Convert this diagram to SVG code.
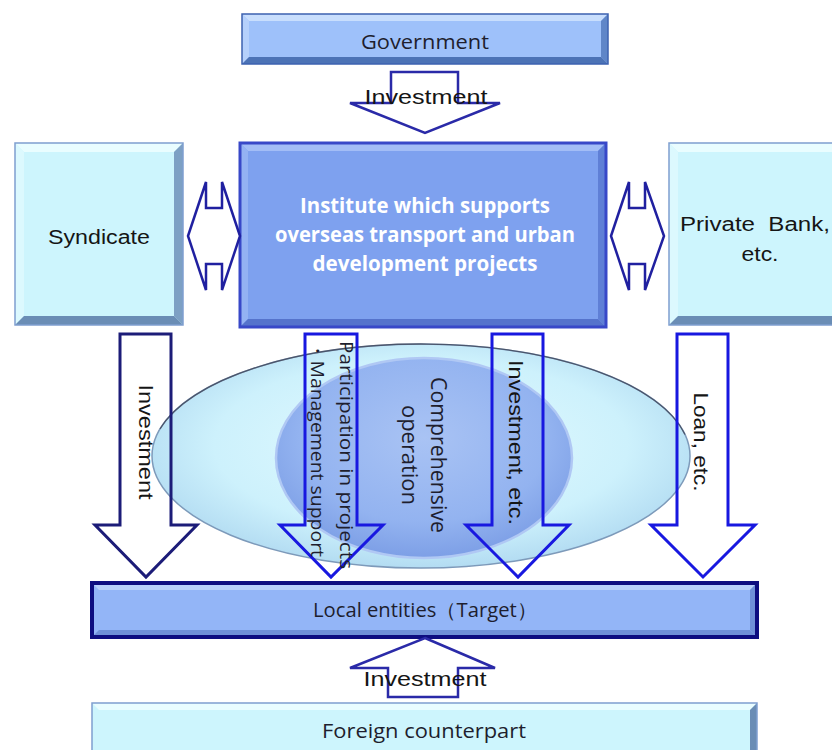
<svg xmlns="http://www.w3.org/2000/svg" width="832" height="750" viewBox="0 0 832 750">
<defs>
<style>
.lbl{font-family:"Open Sans","Noto Sans",sans-serif;fill:#1e1e2e;}
.arl{font-family:"Liberation Sans",Arial,sans-serif;fill:#151515;}
.wht{font-family:"Open Sans","Noto Sans",sans-serif;fill:#ffffff;font-weight:bold;}
.arr{fill:#ffffff;stroke-linejoin:miter;}
.varr{fill:none;stroke-width:3;stroke-linejoin:miter;}
</style>
<radialGradient id="gBig" cx="0.5" cy="0.45" r="0.55">
<stop offset="0" stop-color="#e4fbff"/>
<stop offset="0.7" stop-color="#cdf1fc"/>
<stop offset="1" stop-color="#b3dcf2"/>
</radialGradient>
<radialGradient id="gIn" cx="0.5" cy="0.4" r="0.6">
<stop offset="0" stop-color="#a9c3f4"/>
<stop offset="0.7" stop-color="#93b3f0"/>
<stop offset="1" stop-color="#7d9fe6"/>
</radialGradient>
</defs>
<rect width="832" height="750" fill="#ffffff"/>

<g id="government">
<rect x="242" y="14" width="366" height="50" fill="#9ec1fa"/>
<polygon points="242,14 608,14 601,21 249,21" fill="#c8defd"/>
<polygon points="242,14 249,21 249,57 242,64" fill="#b5d0fb"/>
<polygon points="608,14 608,64 601,57 601,21" fill="#5f86c8"/>
<polygon points="242,64 608,64 601,57 249,57" fill="#4c73b6"/>
<rect x="242" y="14" width="366" height="50" fill="none" stroke="#3d62b0" stroke-width="1.5"/>
<text class="lbl" x="425" y="49" font-size="20" text-anchor="middle" textLength="128" lengthAdjust="spacingAndGlyphs">Government</text>
</g>

<g id="syndicate">
<rect x="15" y="143" width="168" height="182" fill="#cdf5fd"/>
<polygon points="15,143 183,143 174,152 24,152" fill="#e9fdff"/>
<polygon points="15,143 24,152 24,316 15,325" fill="#dcf9fe"/>
<polygon points="183,143 183,325 174,316 174,152" fill="#7da0c4"/>
<polygon points="15,325 183,325 174,316 24,316" fill="#6a8db5"/>
<rect x="15" y="143" width="168" height="182" fill="none" stroke="#7f9fd0" stroke-width="1.5"/>
<text class="arl" x="99" y="244" font-size="20" text-anchor="middle" textLength="102" lengthAdjust="spacingAndGlyphs">Syndicate</text>
</g>

<g id="institute">
<rect x="240" y="143" width="366" height="184" fill="#7ea1ef"/>
<polygon points="240,143 606,143 598,151 248,151" fill="#a3bdf6"/>
<polygon points="240,143 248,151 248,319 240,327" fill="#94b2f3"/>
<polygon points="606,143 606,327 598,319 598,151" fill="#5f7fd6"/>
<polygon points="240,327 606,327 598,319 248,319" fill="#5573cc"/>
<rect x="240" y="143" width="366" height="184" fill="none" stroke="#3848c8" stroke-width="3"/>
<text class="wht" x="425" y="213" font-size="21" text-anchor="middle" textLength="250" lengthAdjust="spacingAndGlyphs">Institute which supports</text>
<text class="wht" x="425" y="242" font-size="21" text-anchor="middle" textLength="300" lengthAdjust="spacingAndGlyphs">overseas transport and urban</text>
<text class="wht" x="425" y="271" font-size="21" text-anchor="middle" textLength="225" lengthAdjust="spacingAndGlyphs">development projects</text>
</g>

<g id="private-bank">
<rect x="669" y="143" width="172" height="182" fill="#cdf5fd"/>
<polygon points="669,143 841,143 832,152 678,152" fill="#e9fdff"/>
<polygon points="669,143 678,152 678,316 669,325" fill="#dcf9fe"/>
<polygon points="669,325 841,325 832,316 678,316" fill="#6a8db5"/>
<rect x="669" y="143" width="172" height="182" fill="none" stroke="#7f9fd0" stroke-width="1.5"/>
<text class="arl" x="755" y="231" font-size="20" text-anchor="middle" textLength="150" lengthAdjust="spacingAndGlyphs" xml:space="preserve">Private  Bank,</text>
<text class="arl" x="760" y="261" font-size="20" text-anchor="middle" textLength="37" lengthAdjust="spacingAndGlyphs">etc.</text>
</g>

<g id="comprehensive-operation">
<ellipse cx="421" cy="456" rx="269" ry="112" fill="url(#gBig)" stroke="#7d9aba" stroke-width="1.5"/>
<path d="M 160,428.9 A 269,112 0 0 1 685,434.5" fill="none" stroke="#303040" stroke-width="1.3" opacity="0.65"/>
<ellipse cx="424" cy="458" rx="148" ry="100" fill="url(#gIn)" stroke="#b0c8f4" stroke-width="2.5"/>
<text class="lbl" x="0" y="0" font-size="21" text-anchor="middle" textLength="156" lengthAdjust="spacingAndGlyphs" transform="translate(431,455) rotate(90)">Comprehensive</text>
<text class="lbl" x="0" y="0" font-size="21" text-anchor="middle" textLength="100" lengthAdjust="spacingAndGlyphs" transform="translate(402,455) rotate(90)">operation</text>
</g>

<g id="local-entities">
<rect x="92" y="583" width="665" height="54" fill="#93b5f7"/>
<polygon points="92,583 757,583 750,590 99,590" fill="#b7cffa"/>
<polygon points="92,637 757,637 750,630 99,630" fill="#6f90d8"/>
<polygon points="757,583 757,637 750,630 750,590" fill="#6f90d8"/>
<rect x="92" y="583" width="665" height="54" fill="none" stroke="#0d0d80" stroke-width="4"/>
<text class="lbl" x="425" y="617" font-size="20" text-anchor="middle" textLength="224" lengthAdjust="spacingAndGlyphs">Local entities（Target）</text>
</g>

<g id="foreign-counterpart">
<rect x="92" y="703" width="665" height="60" fill="#cdf5fd"/>
<polygon points="92,703 757,703 750,710 99,710" fill="#e9fdff"/>
<polygon points="757,703 757,763 750,756 750,710" fill="#6a8db5"/>
<rect x="92" y="703" width="665" height="60" fill="none" stroke="#7f9fd0" stroke-width="1.5"/>
<text class="lbl" x="424" y="738" font-size="20" text-anchor="middle" textLength="204" lengthAdjust="spacingAndGlyphs">Foreign counterpart</text>
</g>

<g id="connectors">
<polygon class="arr" points="391,72 458,72 458,103 500,103 425,133 350,103 391,103" stroke="#2a2aa8" stroke-width="2.5"/>
<text class="arl" x="426" y="104" font-size="21" text-anchor="middle" textLength="123" lengthAdjust="spacingAndGlyphs">Investment</text>

<polygon class="arr" points="188,236 206,182 206,208 222,208 222,182 240,236 222,290 222,264 206,264 206,290" stroke="#2020a0" stroke-width="2.5"/>
<polygon class="arr" points="611,236 629,182 629,208 645,208 645,182 664,236 645,290 645,264 629,264 629,290" stroke="#2020a0" stroke-width="2.5"/>

<polygon class="varr" points="120,334 171,334 171,525 197,525 146,577 95,525 120,525" stroke="#1c1c78"/>
<text class="arl" x="0" y="0" font-size="21" text-anchor="middle" textLength="115" lengthAdjust="spacingAndGlyphs" transform="translate(139,442) rotate(90)">Investment</text>

<polygon class="varr" points="305,334 357,334 357,525 383,525 331,577 280,525 305,525" stroke="#1818e0"/>
<text class="lbl" x="0" y="0" font-size="19" textLength="228" lengthAdjust="spacingAndGlyphs" transform="translate(340,341) rotate(90)">Participation in projects</text>
<text class="lbl" x="0" y="0" font-size="19" textLength="216" lengthAdjust="spacingAndGlyphs" transform="translate(311,341) rotate(90)">・Management support</text>

<polygon class="varr" points="492,334 543,334 543,525 569,525 518,577 466,525 492,525" stroke="#1818e0"/>
<text class="arl" x="0" y="0" font-size="21" textLength="165" lengthAdjust="spacingAndGlyphs" transform="translate(509,360) rotate(90)">Investment, etc.</text>

<polygon class="varr" points="677,334 728,334 728,525 755,525 703,577 651,525 677,525" stroke="#1818e0"/>
<text class="arl" x="0" y="0" font-size="21" text-anchor="middle" textLength="99" lengthAdjust="spacingAndGlyphs" transform="translate(694,442) rotate(90)">Loan, etc.</text>

<polygon class="arr" points="425,638 495,668 458,668 458,697 388,697 388,668 350,668" stroke="#2a2aa8" stroke-width="2.5"/>
<text class="arl" x="425" y="686" font-size="21" text-anchor="middle" textLength="123" lengthAdjust="spacingAndGlyphs">Investment</text>
</g>
</svg>
